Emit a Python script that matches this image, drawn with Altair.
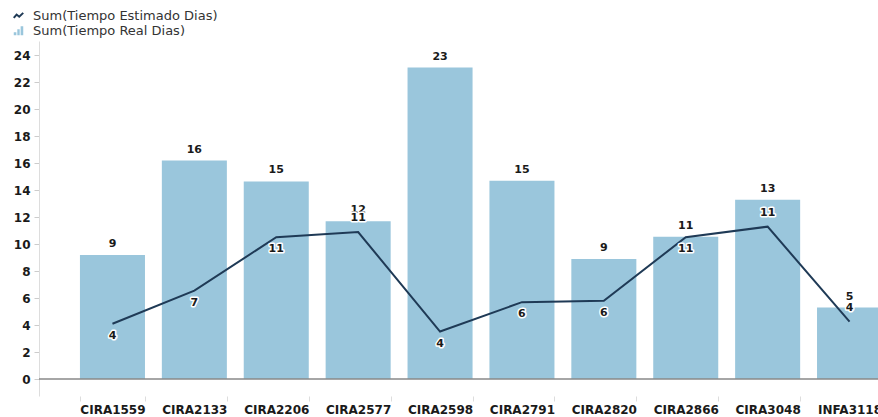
import altair as alt
import pandas as pd

categories = ["CIRA1559", "CIRA2133", "CIRA2206", "CIRA2577", "CIRA2598",
              "CIRA2791", "CIRA2820", "CIRA2866", "CIRA3048", "INFA3118"]
real_days = [9.2, 16.2, 14.65, 11.7, 23.1, 14.7, 8.9, 10.55, 13.3, 5.3]
est_days = [4.1, 6.55, 10.52, 10.9, 3.52, 5.7, 5.8, 10.52, 11.3, 4.25]
y_ticks = list(range(0, 25, 2))

SER_EST = "Sum(Tiempo Estimado Dias)"
SER_REAL = "Sum(Tiempo Real Dias)"

df = pd.DataFrame({"idx": list(range(len(categories))), "cat": categories,
                   "real": real_days, "est": est_days,
                   "ser_real": [SER_REAL] * len(categories),
                   "ser_est": [SER_EST] * len(categories)})
zero_df = pd.DataFrame({"z": [0]})

FONT = "DejaVu Sans"
BAR_COLOR = "#9AC6DC"
LINE_COLOR = "#1F3A56"

x_axis = alt.Axis(labelAngle=0, domain=False, tickBand="extent",
                  tickColor="#dddddd", tickSize=5, labelPadding=3,
                  labelFont=FONT, labelFontWeight="bold", labelFontSize=12,
                  labelColor="#1a1a1a")
x_scale = alt.Scale(range=[0, 884], paddingInner=0.206, paddingOuter=0.5)
y_scale = alt.Scale(domain=[-1.26, 25.07], nice=False, zero=False)
y_axis = alt.Axis(values=y_ticks, title=None, grid=False, domainColor="#dddddd",
                  tickColor="#cccccc", tickSize=5, labelPadding=4, labelFont=FONT,
                  labelFontWeight="bold", labelFontSize=12, labelColor="#1a1a1a",
                  labelOverlap=False)


def X():
    return alt.X("cat:N", sort=categories, title=None, scale=x_scale, axis=x_axis)


def Y(field):
    return alt.Y(field, title=None, scale=y_scale, axis=y_axis)


base = alt.Chart(df)

bar_icon = ("M-1,1L-1,0.35L-0.45,0.35L-0.45,1Z"
            "M-0.25,1L-0.25,-0.25L0.25,-0.25L0.25,1Z"
            "M0.45,1L0.45,-0.9L1,-0.9L1,1Z")
line_icon = "M-1,0.5L-0.4,-0.2L0.15,0.25L1,-0.55"

legend_common = dict(title=None, orient="none", legendX=-32, symbolSize=90,
                     symbolOffset=5,
                     labelFont=FONT, labelFontSize=13, labelFontWeight="normal",
                     labelColor="#333333", labelOffset=8, labelLimit=0, padding=0)

bars = base.mark_bar().encode(
    x=X(),
    y=Y("real:Q"),
    y2=alt.datum(0),
    fill=alt.Fill("ser_real:N",
                  scale=alt.Scale(domain=[SER_REAL], range=[BAR_COLOR]),
                  legend=alt.Legend(legendY=-17, symbolType=bar_icon,
                                    symbolFillColor="#5a9ccc", symbolStrokeWidth=0,
                                    **legend_common)),
)

zero_rule = alt.Chart(zero_df).mark_rule(color="#888888", strokeWidth=1.5).encode(
    y=Y("z:Q"))

line = base.mark_line(strokeWidth=2).encode(
    x=X(),
    y=Y("est:Q"),
    stroke=alt.Stroke("ser_est:N",
                      scale=alt.Scale(domain=[SER_EST], range=[LINE_COLOR]),
                      legend=alt.Legend(legendY=-32, symbolType=line_icon,
                                        symbolStrokeWidth=2, **legend_common)),
)

bar_labels = base.mark_text(dy=-11, font=FONT, fontWeight="bold", fontSize=11,
                            color="#1a1a1a").encode(
    x=X(),
    y=Y("real:Q"),
    text=alt.Text("real:Q", format=".0f"),
)

est_base = base.transform_window(
    prev_est="lag(est)", next_est="lead(est)", sort=[alt.SortField("idx")]
).transform_calculate(
    above="datum.next_est == null || (datum.est >= datum.prev_est && datum.est >= datum.next_est)"
)


def est_labels(cond, dy):
    layers = []
    for halo in (True, False):
        kw = dict(dy=dy, font=FONT, fontWeight="bold", fontSize=11, color="#1a1a1a")
        if halo:
            kw.update(stroke="#ffffff", strokeWidth=3, strokeJoin="round")
        layers.append(est_base.transform_filter(cond).mark_text(**kw).encode(
            x=X(),
            y=Y("est:Q"),
            text=alt.Text("est:Q", format=".0f"),
        ))
    return layers


labels_above = est_labels("datum.above", -14)
labels_below = est_labels("!datum.above", 12)

chart = alt.layer(bars, zero_rule, line, bar_labels, *labels_above, *labels_below).properties(
    width=839, height=355,
    autosize=alt.AutoSizeParams(type="none"),
    padding={"left": 39, "top": 41, "right": 0, "bottom": 21},
    background="#ffffff",
).configure_view(stroke=None)

chart.save("out.html", embed_options={"renderer": "svg", "actions": False})
